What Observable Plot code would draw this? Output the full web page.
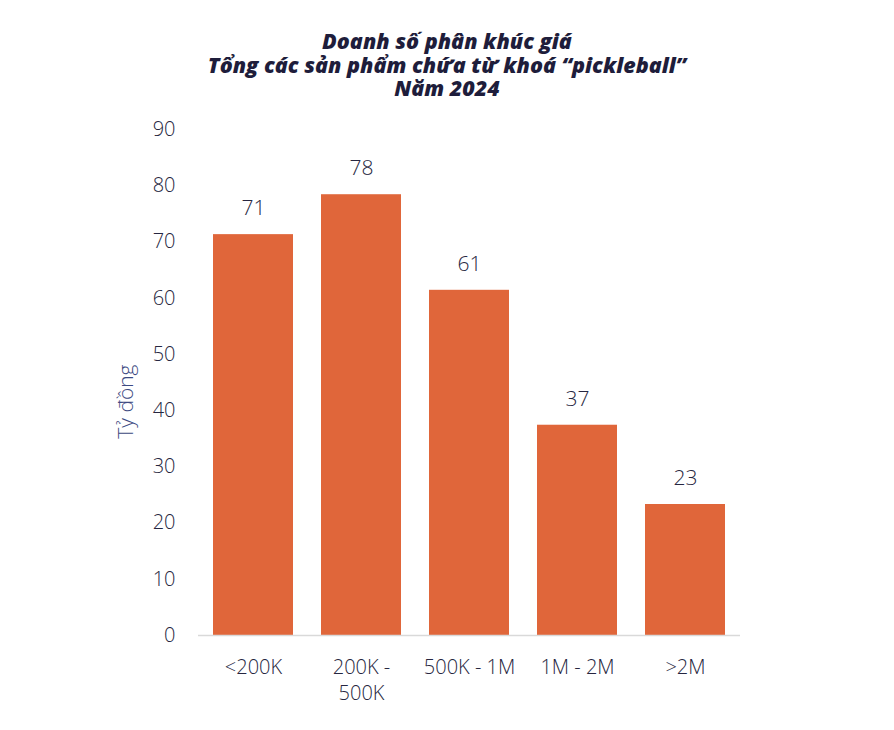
<!DOCTYPE html>
<html>
<head>
<meta charset="utf-8">
<script src="https://cdn.jsdelivr.net/npm/d3@7"></script>
<script src="https://cdn.jsdelivr.net/npm/@observablehq/plot@0.6"></script>
<style>
  html, body { margin: 0; padding: 0; background: #fff; }
  body { width: 894px; font-family: "Open Sans", sans-serif; }
  #title { height: 110px; box-sizing: border-box; padding-top: 29px; text-align: center;
    font-family: "Open Sans", sans-serif; font-weight: 800; font-style: italic; font-size: 21.5px;
    line-height: 23.5px; color: #1e1d3b; }
  #title div { margin: 0; }
  svg { display: block; }
</style>
</head>
<body>
<div id="title"><div>Doanh số phân khúc giá</div><div>Tổng các sản phẩm chứa từ khoá “pickleball”</div><div>Năm 2024</div></div>
<div id="chart"></div>
<script>
const categories = ["<200K", "200K - 500K", "500K - 1M", "1M - 2M", ">2M"];
const tickLabels = ["<200K", "200K -\n500K", "500K - 1M", "1M - 2M", ">2M"];
const values = [71.3, 78.4, 61.4, 37.4, 23.3];
const yTicks = [0, 10, 20, 30, 40, 50, 60, 70, 80, 90];
const yLabel = "Tỷ đồng";

const data = categories.map((c, i) => ({category: c, value: values[i]}));

const chart = Plot.plot({
  width: 894,
  height: 620,
  marginTop: 19,
  marginBottom: 95,
  marginLeft: 198,
  marginRight: 154,
  style: {fontFamily: "Open Sans, sans-serif", fontSize: "20px", fontWeight: 300, color: "#262640"},
  x: {domain: categories, paddingInner: 0.263, paddingOuter: 0.13, label: null},
  y: {domain: [0, 90], label: null},
  marks: [
    Plot.barY(data, {x: "category", y: "value", fill: "#E0663A"}),
    Plot.ruleY([0], {stroke: "#d9d9d9", strokeWidth: 1.5}),
    Plot.axisY({ticks: yTicks, tickSize: 0, tickPadding: 23, label: null, fontSize: 20, fill: "#262640"}),
    Plot.axisX({tickSize: 0, tickPadding: 20, label: null, fontSize: 20, fill: "#262640", lineHeight: 1.3,
      tickFormat: d => tickLabels[categories.indexOf(d)]}),
    Plot.text(data, {x: "category", y: "value", text: d => String(Math.round(d.value)), dy: -26, fontSize: 21, fill: "#262640"}),
    Plot.text([yLabel], {frameAnchor: "left", y: () => 41.6, dx: -72, rotate: -90, textAnchor: "middle", fontSize: 21, fill: "#3d4a82"})
  ]
});
document.getElementById("chart").appendChild(chart);
</script>
</body>
</html>
